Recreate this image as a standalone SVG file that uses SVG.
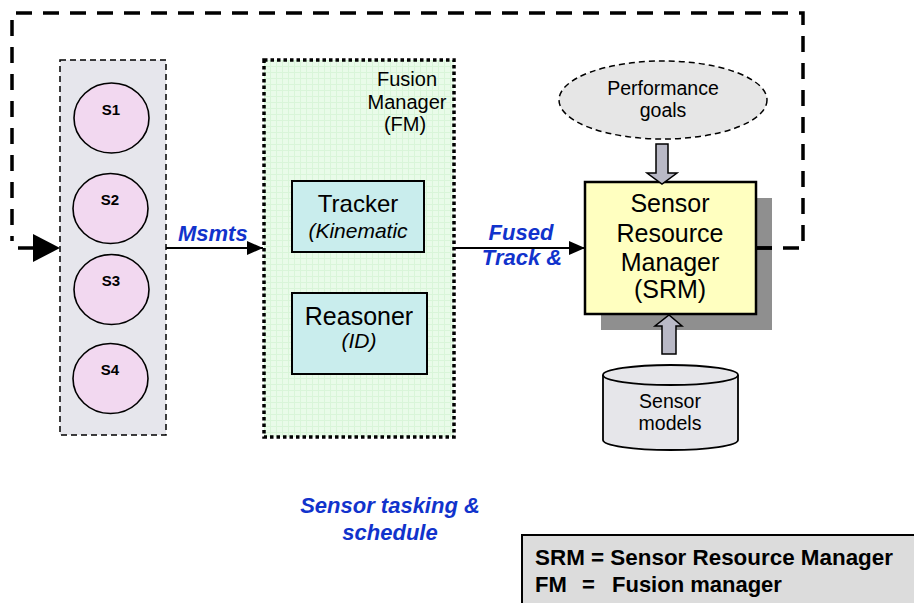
<svg xmlns="http://www.w3.org/2000/svg" width="914" height="603" viewBox="0 0 914 603">
  <style>
    text { font-family: "Liberation Sans", Arial, sans-serif; fill: #000; }
    .c { text-anchor: middle; }
    .lbl { font-weight: bold; font-style: italic; font-size: 22px; fill: #1133cc; }
    .sid { font-weight: bold; font-size: 15px; text-anchor: middle; }
    .sensor { fill: #f2d8f0; stroke: #000; stroke-width: 1.6; }
    .inner { fill: #c9eded; stroke: #000; stroke-width: 2; }
    .blk { fill: #b9b9c6; stroke: #000; stroke-width: 1.5; }
    .wire { fill: none; stroke: #000; stroke-width: 2; }
    .loop { fill: none; stroke: #000; stroke-width: 3.5; stroke-dasharray: 16 11; }
  </style>
  <defs>
    <pattern id="grid" width="6" height="6" patternUnits="userSpaceOnUse">
      <rect width="6" height="6" fill="#e9fbe9"/>
      <path d="M0 0.5H6M0.5 0V6" stroke="#d9f5d9" stroke-width="1"/>
    </pattern>
    <marker id="tip" viewBox="0 0 16 14" refX="16" refY="7" markerWidth="16" markerHeight="14" markerUnits="userSpaceOnUse" orient="auto">
      <path d="M0 0L16 7L0 14Z" fill="#000"/>
    </marker>
  </defs>

  <g id="sensors">
    <rect x="60" y="60" width="106" height="375" fill="#e6e6ec" stroke="#000" stroke-width="1.5" stroke-dasharray="6 4"/>
    <g id="s1"><ellipse class="sensor" cx="111.5" cy="118" rx="37.5" ry="35"/><text class="sid" x="111" y="115">S1</text></g>
    <g id="s2"><ellipse class="sensor" cx="110.5" cy="208.5" rx="37.5" ry="35"/><text class="sid" x="110" y="205">S2</text></g>
    <g id="s3"><ellipse class="sensor" cx="111.5" cy="289.5" rx="37.5" ry="35"/><text class="sid" x="111" y="286">S3</text></g>
    <g id="s4"><ellipse class="sensor" cx="110.5" cy="378.5" rx="37.5" ry="35"/><text class="sid" x="110" y="375">S4</text></g>
  </g>

  <g id="fusion-manager">
    <rect x="264" y="60" width="190" height="377" fill="url(#grid)" stroke="#000" stroke-width="3.5" stroke-dasharray="3.5 3"/>
    <text class="c" x="407" y="86" font-size="20">Fusion</text>
    <text class="c" x="407" y="109" font-size="20">Manager</text>
    <text class="c" x="405" y="131" font-size="20">(FM)</text>
  </g>

  <g id="tracker">
    <rect class="inner" x="292" y="181" width="132" height="71"/>
    <text class="c" x="358" y="212" font-size="24">Tracker</text>
    <text class="c" x="358" y="238" font-size="21" font-style="italic">(Kinematic</text>
  </g>

  <g id="reasoner">
    <rect class="inner" x="292" y="293" width="135" height="81"/>
    <text class="c" x="359" y="325" font-size="25">Reasoner</text>
    <text class="c" x="359" y="348" font-size="21" font-style="italic">(ID)</text>
  </g>

  <g id="performance-goals">
    <ellipse cx="663" cy="100" rx="104" ry="39" fill="#e6e6e6" stroke="#000" stroke-width="1.5" stroke-dasharray="6 4"/>
    <text class="c" x="663" y="95" font-size="19.5">Performance</text>
    <text class="c" x="663" y="117" font-size="19.5">goals</text>
  </g>

  <g id="srm">
    <rect x="601" y="198" width="171" height="132" fill="#8f8f8f"/>
    <rect x="585" y="182" width="171" height="132" fill="#ffffc0" stroke="#000" stroke-width="2.5"/>
    <text class="c" x="670" y="212" font-size="25">Sensor</text>
    <text class="c" x="670" y="242" font-size="25">Resource</text>
    <text class="c" x="670" y="271" font-size="25">Manager</text>
    <text class="c" x="670" y="298" font-size="25">(SRM)</text>
  </g>

  <g id="sensor-models">
    <path d="M603 375V440A67.5 10 0 0 0 738 440V375" fill="#e6e6ea" stroke="#000" stroke-width="1.8"/>
    <ellipse cx="670.5" cy="375" rx="67.5" ry="10" fill="#e6e6ea" stroke="#000" stroke-width="1.8"/>
    <text class="c" x="670" y="408" font-size="19.5">Sensor</text>
    <text class="c" x="670" y="430" font-size="19.5">models</text>
  </g>

  <!-- feedback loop: SRM tasking back to the sensors, plus the data flow arrows -->
  <g id="connectors">
    <path d="M756 248H772" stroke="#000" stroke-width="3.5"/>
    <path class="loop" d="M756 248H803V13H12V241"/>
    <path d="M18 248H36" stroke="#000" stroke-width="3.5"/>
    <path d="M33 234L60 248L33 262Z" fill="#000"/>
    <path class="wire" d="M166 248H263" marker-end="url(#tip)"/>
    <path class="wire" d="M455 248H585" marker-end="url(#tip)"/>
    <!-- block arrows into the SRM -->
    <path class="blk" d="M656 144H668V173H677L662 184L647 173H656Z"/>
    <path class="blk" d="M662 354H676V326H682L669 315L655 326H662Z"/>
  </g>

  <text class="lbl" x="178" y="241">Msmts</text>
  <text class="lbl c" x="521" y="240">Fused</text>
  <text class="lbl c" x="522" y="265">Track &amp;</text>
  <text class="lbl c" x="390" y="513">Sensor tasking &amp;</text>
  <text class="lbl c" x="390" y="540">schedule</text>

  <g id="legend">
    <rect x="522" y="535" width="400" height="80" fill="#dcdcdc" stroke="#000" stroke-width="2"/>
    <text x="535" y="565" font-size="22" font-weight="bold" textLength="358" lengthAdjust="spacingAndGlyphs">SRM = Sensor Resource Manager</text>
    <text x="535" y="592" font-size="22" font-weight="bold">FM<tspan x="582">=</tspan><tspan x="612">Fusion manager</tspan></text>
  </g>
</svg>
